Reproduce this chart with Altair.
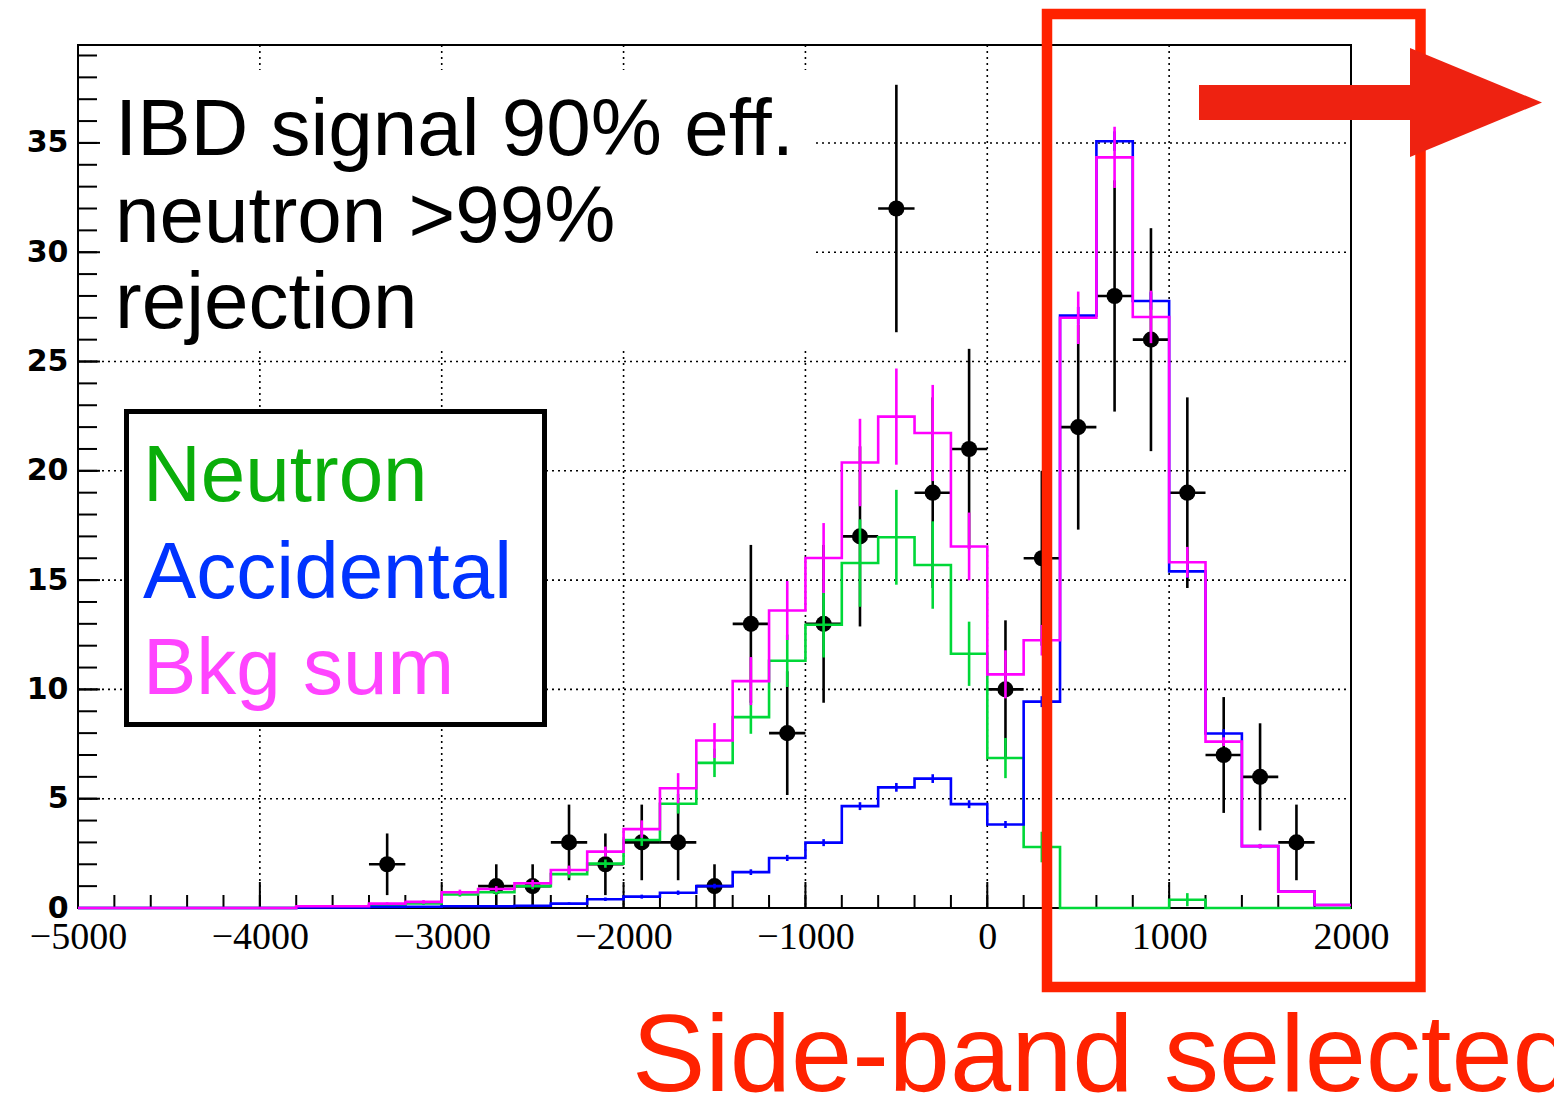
import altair as alt
import pandas as pd

# ---------------- data ----------------
bin_lo = list(range(-5000, 2000, 200))          # 35 bins, width 200
x_end = 2000

neutron = [0, 0, 0, 0, 0, 0,
           0.06, 0.06, 0.14, 0.21, 0.62, 0.72, 1.00, 1.55, 2.03, 3.11, 4.77, 6.64,
           8.73, 11.31, 12.96, 15.78, 16.96, 15.69, 11.63, 6.86, 2.79,
           0, 0, 0, 0.38, 0, 0, 0, 0]
neutron_err = [0, 0, 0, 0, 0, 0,
               0.03, 0.03, 0.05, 0.07, 0.10, 0.12, 0.14, 0.17, 0.19, 0.27, 0.45, 0.65,
               0.76, 1.20, 1.50, 2.00, 2.17, 2.00, 1.47, 0.92, 0.70,
               0, 0, 0, 0.30, 0, 0, 0, 0]

accidental = [0, 0, 0, 0, 0, 0,
              0.03, 0.03, 0.05, 0.06, 0.08, 0.08, 0.10, 0.20, 0.40, 0.52, 0.70, 1.00,
              1.64, 2.29, 2.99, 4.66, 5.52, 5.92, 4.75, 3.82, 9.44,
              27.10, 35.08, 27.77, 15.40, 7.98, 2.83, 0.75, 0.14]
accidental_err = [0, 0, 0, 0, 0, 0,
                  0.02, 0.02, 0.03, 0.03, 0.04, 0.04, 0.05, 0.06, 0.08, 0.09, 0.10, 0.11,
                  0.13, 0.14, 0.16, 0.18, 0.20, 0.20, 0.18, 0.16, 0.25,
                  0.40, 0.45, 0.40, 0.30, 0.20, 0.10, 0.05, 0.03]

bkg_sum = [0, 0, 0, 0, 0, 0,
           0.08, 0.08, 0.20, 0.28, 0.72, 0.87, 1.13, 1.74, 2.58, 3.61, 5.48, 7.66,
           10.38, 13.61, 16.01, 20.38, 22.48, 21.73, 16.54, 10.69, 12.25,
           27.00, 34.34, 27.04, 15.82, 7.61, 2.83, 0.75, 0.14]
bkg_sum_err = [0, 0, 0, 0, 0, 0,
               0.03, 0.03, 0.06, 0.08, 0.12, 0.13, 0.16, 0.20, 0.23, 0.40, 0.69, 0.80,
               1.10, 1.35, 1.60, 2.00, 2.20, 2.20, 1.55, 1.10, 0.70,
               1.20, 1.40, 1.20, 0.70, 0.20, 0.10, 0.05, 0.03]

data_x = [-3300, -2700, -2500, -2300, -2100, -1900, -1700, -1500, -1300, -1100,
          -900, -700, -500, -300, -100, 100, 300, 500, 700, 900, 1100, 1300, 1500, 1700]
data_n = [2, 1, 1, 3, 2, 3, 3, 1, 13, 8, 13, 17, 32, 19, 21, 10, 16, 22, 28, 26, 19, 7, 6, 3]
data_err = [1.41, 1.0, 1.0, 1.73, 1.41, 1.73, 1.73, 1.0, 3.61, 2.83, 3.61, 4.12, 5.66,
            4.36, 4.58, 3.16, 4.0, 4.69, 5.29, 5.10, 4.36, 2.65, 2.45, 1.73]

x_major = [-5000, -4000, -3000, -2000, -1000, 0, 1000, 2000]
x_minor = list(range(-4800, 2000, 200))
y_major = [0, 5, 10, 15, 20, 25, 30, 35]
y_minor = list(range(1, 40))
x_grid = [-4000, -3000, -2000, -1000, 0, 1000]
y_grid = [5, 10, 15, 20, 25, 30, 35]

text_lines = ["IBD signal 90% eff.", "neutron >99%", "rejection"]
legend_labels = ["Neutron", "Accidental", "Bkg sum"]
legend_colors = ["#0aae0a", "#0033ff", "#ff44ff"]
side_text = "Side-band selected"

# ---------------- layout ----------------
W, H = 1273, 863
xs = alt.Scale(domain=[-5000, 2000], nice=False, zero=False)
ys = alt.Scale(domain=[0, 39.48], nice=False, zero=False)

x_axis = alt.Axis(values=x_major, format="d", labelFont="Liberation Serif",
                  labelFontSize=38, labelColor="black", labelPadding=10,
                  labelFlush=False, labelOverlap=False, ticks=False, tickSize=0,
                  domain=False, grid=False, title=None)
y_axis = alt.Axis(values=y_major, format="d", labelFont="DejaVu Sans",
                  labelFontWeight="bold", labelFontSize=30, labelColor="black",
                  labelPadding=10, labelOverlap=False, ticks=False, tickSize=0,
                  domain=False, grid=False, title=None)


def X(f):
    return alt.X(f, type="quantitative", scale=xs, axis=x_axis)


def Y(f):
    return alt.Y(f, type="quantitative", scale=ys, axis=y_axis)


def Y2(f):
    return alt.Y2(f)


one = pd.DataFrame({"a": [0]})

# grid
gx = alt.Chart(pd.DataFrame({"v": x_grid})).mark_rule(
    color="black", strokeWidth=1.6, strokeDash=[2, 4]).encode(
    x=X("v"), y=alt.value(0), y2=alt.value(H))
gy = alt.Chart(pd.DataFrame({"v": y_grid})).mark_rule(
    color="black", strokeWidth=1.6, strokeDash=[2, 4]).encode(
    y=Y("v"), x=alt.value(0), x2=alt.value(W))

# white box behind the upper-left text
tbox = alt.Chart(one).mark_rect(fill="white").encode(
    x=alt.value(2), x2=alt.value(737), y=alt.value(25), y2=alt.value(305))

# ticks (inward)
tx_major = alt.Chart(pd.DataFrame({"v": x_major})).mark_rule(
    color="black", strokeWidth=2).encode(x=X("v"), y=alt.value(H), y2=alt.value(H - 26))
tx_minor = alt.Chart(pd.DataFrame({"v": x_minor})).mark_rule(
    color="black", strokeWidth=2).encode(x=X("v"), y=alt.value(H), y2=alt.value(H - 13))
ty_major = alt.Chart(pd.DataFrame({"v": y_major})).mark_rule(
    color="black", strokeWidth=2).encode(y=Y("v"), x=alt.value(0), x2=alt.value(22))
ty_minor = alt.Chart(pd.DataFrame({"v": y_minor})).mark_rule(
    color="black", strokeWidth=2).encode(y=Y("v"), x=alt.value(0), x2=alt.value(19))

frame = alt.Chart(one).mark_rect(filled=False, stroke="black", strokeWidth=2).encode(
    x=alt.value(0), x2=alt.value(W), y=alt.value(0), y2=alt.value(H))

# data points
ddf = pd.DataFrame({"x": data_x, "n": data_n, "e": data_err})
ddf["lo"] = ddf["n"] - ddf["e"]
ddf["hi"] = ddf["n"] + ddf["e"]
ddf["xl"] = ddf["x"] - 100
ddf["xr"] = ddf["x"] + 100
d_v = alt.Chart(ddf).mark_rule(color="black", strokeWidth=2.6).encode(
    x=X("x"), y=Y("lo"), y2=Y2("hi"))
d_h = alt.Chart(ddf).mark_rule(color="black", strokeWidth=2.6).encode(
    x=X("xl"), x2=alt.X2("xr"), y=Y("n"))
d_pt = alt.Chart(ddf).mark_circle(color="black", size=260, opacity=1).encode(
    x=X("x"), y=Y("n"))


def hist_layers(vals, errs, color):
    sdf = pd.DataFrame({"x": bin_lo + [x_end], "y": vals + [vals[-1]]})
    line = alt.Chart(sdf).mark_line(interpolate="step-after", color=color,
                                    strokeWidth=2.6).encode(x=X("x"), y=Y("y"))
    edf = pd.DataFrame({"lo_edge": bin_lo, "v": vals, "e": errs})
    edf = edf[edf["e"] > 0].copy()
    edf["xc"] = edf["lo_edge"] + 100
    edf["lo"] = edf["v"] - edf["e"]
    edf["hi"] = edf["v"] + edf["e"]
    err = alt.Chart(edf).mark_rule(color=color, strokeWidth=2.6).encode(
        x=X("xc"), y=Y("lo"), y2=Y2("hi"))
    return [line, err]


h_neu = hist_layers(neutron, neutron_err, "#00d838")
h_acc = hist_layers(accidental, accidental_err, "#0000ff")
h_sum = hist_layers(bkg_sum, bkg_sum_err, "#ff00ff")

# legend box
leg_box = alt.Chart(one).mark_rect(fill="white", stroke="black", strokeWidth=5).encode(
    x=alt.value(48.5), x2=alt.value(466.5), y=alt.value(366.5), y2=alt.value(679.5))
leg_texts = []
for lab, col, yy in zip(legend_labels, legend_colors, [456, 553, 649]):
    leg_texts.append(alt.Chart(one).mark_text(
        text=lab, color=col, font="Liberation Sans", fontSize=80, align="left",
        baseline="alphabetic").encode(x=alt.value(65), y=alt.value(yy)))

# upper-left text
info_texts = []
for line_txt, yy in zip(text_lines, [110, 196.5, 283]):
    info_texts.append(alt.Chart(one).mark_text(
        text=line_txt, color="black", font="Liberation Sans", fontSize=80, align="left",
        baseline="alphabetic").encode(x=alt.value(37), y=alt.value(yy)))

# red annotations
red_box = alt.Chart(one).mark_rect(filled=False, stroke="#ff2200", strokeWidth=10.5).encode(
    x=alt.value(969), x2=alt.value(1342.5), y=alt.value(-31), y2=alt.value(942))
shaft = alt.Chart(one).mark_rect(fill="#ee2211").encode(
    x=alt.value(1121), x2=alt.value(1335), y=alt.value(40), y2=alt.value(75))
head = alt.Chart(one).mark_point(
    shape="M-1,-0.826L1,0L-1,0.826Z", filled=True, size=17424, color="#ee2211",
    opacity=1, strokeWidth=0).encode(x=alt.value(1398), y=alt.value(57.5))
side = alt.Chart(one).mark_text(
    text=side_text, color="#ff2200", font="Liberation Sans", fontSize=110, align="left",
    baseline="alphabetic").encode(x=alt.value(554), y=alt.value(1046))

layers = [gx, gy, tbox, frame, tx_major, tx_minor, ty_major, ty_minor,
          d_v, d_h, d_pt] + h_neu + h_acc + h_sum + [leg_box] + leg_texts + info_texts + \
         [red_box, shaft, head, side]

chart = alt.layer(*layers).properties(
    width=W, height=H,
    autosize=alt.AutoSizeParams(type="none"),
    padding={"left": 70, "top": 37, "right": 203, "bottom": 185},
    background="white",
).configure_view(stroke=None)

chart.save("out.html", embed_options={"renderer": "svg", "actions": False})
